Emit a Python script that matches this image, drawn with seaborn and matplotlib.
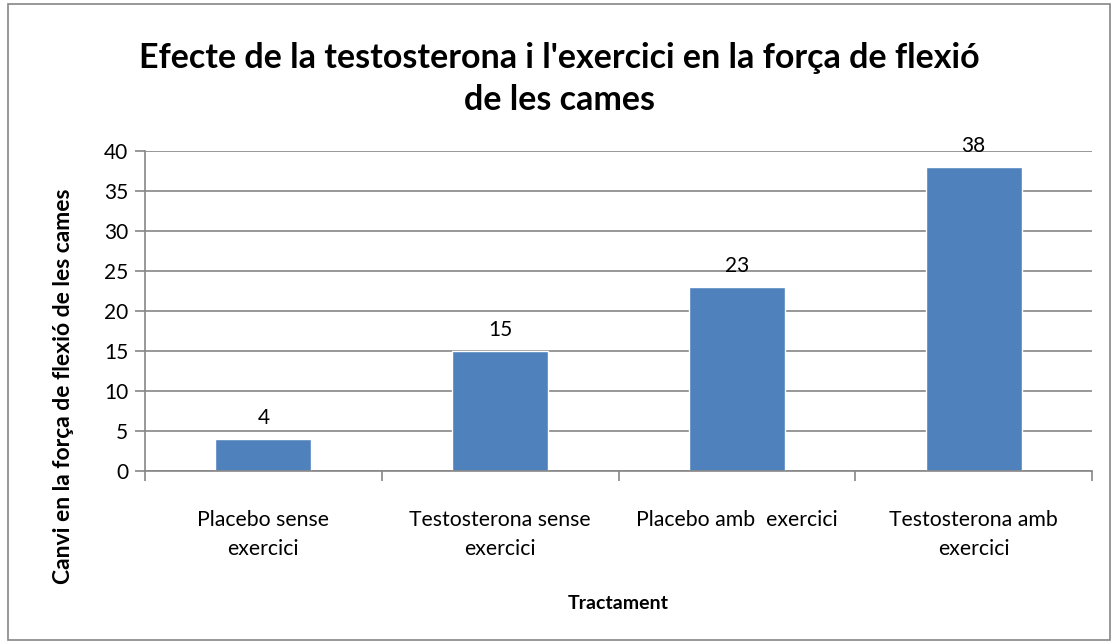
import matplotlib
matplotlib.use("Agg")
import matplotlib.pyplot as plt
import seaborn as sns
import pandas as pd
from matplotlib.patches import Rectangle

categories = ["Placebo sense\nexercici", "Testosterona sense\nexercici",
              "Placebo amb  exercici", "Testosterona amb\nexercici"]
values = [4, 15, 23, 38]
yticks = [0, 5, 10, 15, 20, 25, 30, 35, 40]

sns.set_theme(style="white")
plt.rcParams['font.family'] = ['Lato', 'DejaVu Sans']
plt.rcParams['text.color'] = 'black'
plt.rcParams['axes.labelcolor'] = 'black'
plt.rcParams['xtick.labelcolor'] = 'black'
plt.rcParams['ytick.labelcolor'] = 'black'

df = pd.DataFrame({"cat": categories, "val": values})

fig = plt.figure(figsize=(11.18, 6.44), dpi=100)
ax = fig.add_axes([145/1118, 1-471/644, (1092-145)/1118, (471-151)/644])

sns.barplot(data=df, x="cat", y="val", color="#4F81BD", width=0.405,
            saturation=1, ax=ax, order=categories)

ax.set_ylim(0, 40)
ax.set_xlim(-0.5, len(categories) - 0.5)
ax.set_yticks(yticks)
ax.set_yticklabels([str(t) for t in yticks], fontsize=15)
ax.yaxis.grid(True, color="#868686", linewidth=1.2)
ax.set_axisbelow(True)

for s in ["top", "right"]:
    ax.spines[s].set_visible(False)
for s in ["left", "bottom"]:
    ax.spines[s].set_color("#868686")
    ax.spines[s].set_linewidth(1.2)

ax.tick_params(axis="y", length=7, width=1.2, color="#868686", left=True, pad=5)
ax.set_xticks([i - 0.5 for i in range(len(categories) + 1)], minor=True)
ax.tick_params(axis="x", which="minor", length=7, width=1.2, color="#868686", bottom=True)
ax.tick_params(axis="x", which="major", length=0, pad=28)
ax.set_xticks(range(len(categories)))
ax.set_xticklabels(categories, fontsize=15.3, linespacing=1.55)

for i, v in enumerate(values):
    ax.text(i, v + 1.4, str(v), ha="center", va="bottom", fontsize=15, color="black")

ax.set_xlabel("Tractament", fontsize=14, fontweight="bold", labelpad=26)
ax.set_ylabel("Canvi en la força de flexió de les cames", fontsize=16.5,
              fontweight="bold")
ax.yaxis.set_label_coords(-(145 - 74) / 947, (471 - 386) / 320)

fig.text(0.5, 1-79/644, "Efecte de la testosterona i l'exercici en la força de flexió\nde les cames",
         ha="center", va="center", fontsize=24.5, fontweight="bold", linespacing=1.4,
         color="black")

fig.patches.append(Rectangle((8/1118, 4/644), 1102/1118, 636/644, transform=fig.transFigure,
                             fill=False, edgecolor="#868686", linewidth=1.2))

fig.savefig("out.png", dpi=100)
